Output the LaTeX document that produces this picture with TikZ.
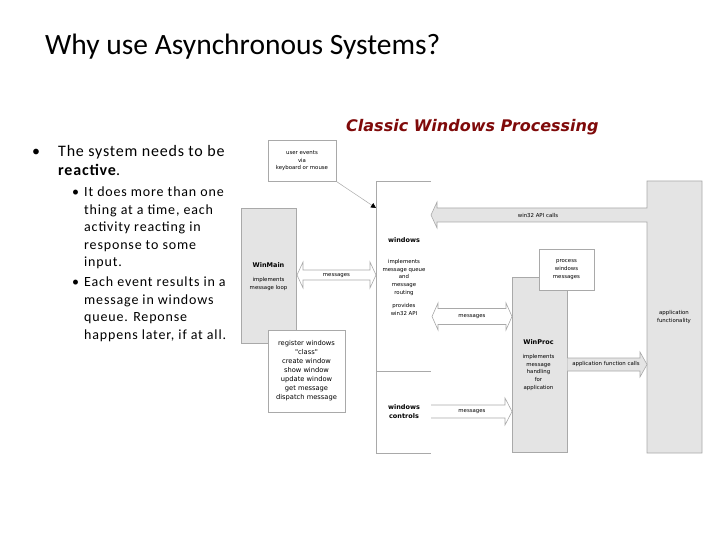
\documentclass[tikz,border=0pt]{standalone}
\usepackage{fontspec}
\setmainfont{Carlito}
\newfontfamily\djfont{DejaVu Sans}
\usetikzlibrary{arrows.meta}
\definecolor{boxgray}{HTML}{E4E4E4}
\definecolor{linegray}{HTML}{A9A9A9}
\definecolor{titlered}{HTML}{7F0A0A}
\begin{document}
\begin{tikzpicture}[x=1pt,y=-1pt,
  gbox/.style={draw=linegray, fill=boxgray, line width=0.6pt, inner sep=0pt, anchor=north west},
  wbox/.style={draw=linegray, fill=white, line width=0.6pt, inner sep=0pt, anchor=north west},
  bline/.style={draw=linegray, line width=0.6pt},
  lbl/.style={font=\djfont\fontsize{5.4}{7.6}\selectfont, align=center, inner sep=0pt},
  rlbl/.style={font=\djfont\fontsize{6.7}{9}\selectfont, align=center, inner sep=0pt},
  blbl/.style={font=\djfont\bfseries\fontsize{6.5}{9}\selectfont, align=center, inner sep=0pt},
  body/.style={anchor=base west, inner sep=0pt},
  mainf/.style={font=\fontsize{16}{18}\selectfont\addfontfeature{LetterSpace=5}},
  subf/.style={font=\fontsize{14}{17}\selectfont\addfontfeature{LetterSpace=6}}]
\useasboundingbox (0,0) rectangle (720,540);

% slide title
\node[body, font=\fontsize{29.5}{34}\selectfont] (title) at (45,55) {Why use Asynchronous Systems?};

% bullets
\node[body, mainf] (b1) at (32,156.7) {•};
\node[body, mainf] (t1a) at (58,156.7) {The system needs to be};
\node[body, mainf] (t1b) at (58,175.7) {\textbf{reactive}.};
\node[body, subf] (b2) at (72,196.7) {•};
\foreach \yy/\tt [count=\i] in {196.7/It does more than one, 214.2/{thing at a time, each}, 231.7/activity reacting in, 249.2/response to some, 266.7/input.}
  \node[body, subf] (s1\i) at (84,\yy) {\tt};
\node[body, subf] (b3) at (72,286.7) {•};
\foreach \yy/\tt [count=\i] in {286.7/Each event results in a, 304.2/message in windows, 321.7/queue.  Reponse, 339.2/{happens later, if at all.}}
  \node[body, subf] (s2\i) at (84,\yy) {\tt};

% diagram title
\node[body, font=\djfont\bfseries\itshape\fontsize{16}{18}\selectfont, text=titlered] (dtitle) at (346,131.7) {Classic Windows Processing};

% application functionality column with win32 API calls arrow
\path[bline, fill=boxgray] (647,181) -- (702,181) -- (702,453) -- (647,453) -- (647,222)
  -- (437,222) -- (437,228) -- (431,215) -- (437,202) -- (437,208) -- (647,208) -- cycle;
\node[lbl] (w32) at (538,215.5) {win32 API calls};
\node[lbl] (appf) at (674,317) {application\\functionality};

% windows column
\coordinate (wtl) at (376,181);
\draw[bline] (431,181) -- (wtl) -- (376,453) -- (431,453);
\draw[bline] (376,371) -- (431,371);
\node[blbl] (windows) at (404,240) {windows};
\node[lbl] (wimpl) at (404,277.5) {implements\\message queue\\and\\message\\routing};
\node[lbl] (wprov) at (404,309.5) {provides\\win32 API};
\node[blbl] (wctrl) at (404,412) {windows\\controls};

% user events box and arrow
\node[wbox, minimum width=68pt, minimum height=41pt] (user) at (268,140) {};
\node[lbl] (usertxt) at (302,161) {user events\\via\\keyboard or mouse};
\coordinate (uin) at (376,208);
\draw[linegray, line width=0.5pt, -{Triangle[length=5pt,width=5pt,color=black]}] (user.south east) -- (uin);

% WinMain
\node[gbox, minimum width=55pt, minimum height=135pt] (winmain) at (241,208) {};
\node[blbl] (wmname) at (268.5,265) {WinMain};
\node[lbl] (wmtxt) at (268.5,284) {implements\\message loop};
\node[wbox, minimum width=77pt, minimum height=82pt] (reg) at (268,330) {};
\node[rlbl] (regtxt) at (306.5,371) {register windows\\"class"\\create window\\show window\\update window\\get message\\dispatch message};

% messages arrow WinMain <-> windows
\path[bline, fill=white] (297,275) -- (303,262) -- (303,270) -- (370,270) -- (370,262) -- (376,275)
  -- (370,288) -- (370,280) -- (303,280) -- (303,288) -- cycle;
\node[lbl] (m1) at (336.5,275.5) {messages};

% WinProc
\node[gbox, minimum width=55pt, minimum height=175pt] (winproc) at (512,277) {};
\node[blbl] (wpname) at (538.5,342.5) {WinProc};
\node[lbl] (wptxt) at (538.5,372.5) {implements\\message\\handling\\for\\application};
\node[wbox, minimum width=55pt, minimum height=41pt] (proc) at (539,249) {};
\node[lbl] (proctxt) at (566.5,269.5) {process\\windows\\messages};

% messages arrow windows <-> WinProc
\path[bline, fill=white] (432,316.5) -- (438,303) -- (438,308.5) -- (506,308.5) -- (506,303) -- (512,316.5)
  -- (506,330) -- (506,324.5) -- (438,324.5) -- (438,330) -- cycle;
\node[lbl] (m2) at (472,316.5) {messages};

% messages arrow windows controls -> WinProc
\path[bline, fill=white] (431,405) -- (505,405) -- (505,398) -- (512,411.5) -- (505,425) -- (505,418) -- (431,418);
\node[lbl] (m3) at (472,411.5) {messages};

% application function calls arrow
\path[fill=boxgray] (567.3,358) -- (640,358) -- (640,352) -- (647,364.5) -- (640,377) -- (640,371) -- (567.3,371) -- cycle;
\draw[bline] (567.3,358) -- (640,358) -- (640,352) -- (647,364.5) -- (640,377) -- (640,371) -- (567.3,371);
\node[lbl] (afc) at (606,364.5) {application function calls};
\end{tikzpicture}
\end{document}
